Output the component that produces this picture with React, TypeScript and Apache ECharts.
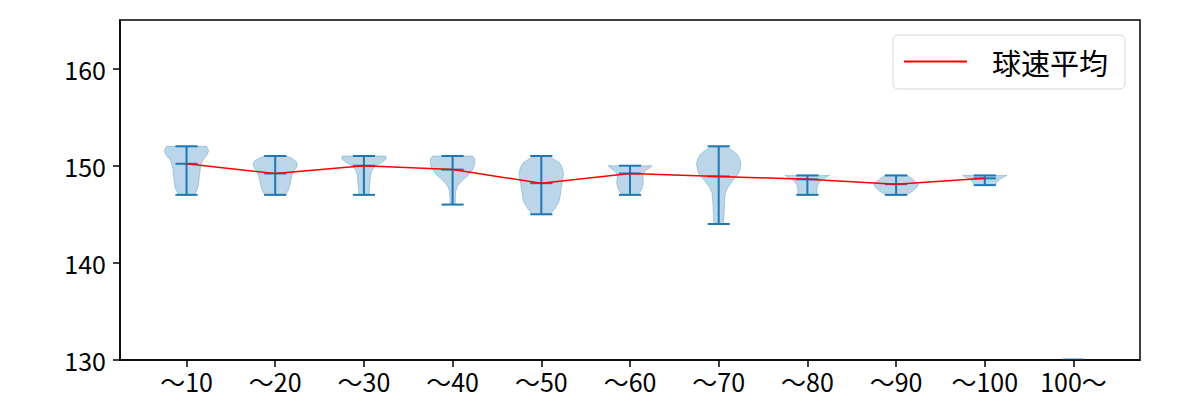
import React, { useEffect, useRef } from "react";
import * as echarts from "echarts";

const categories = ["～10", "～20", "～30", "～40", "～50", "～60", "～70", "～80", "～90", "～100", "100～"];
const positions = [1, 2, 3, 4, 5, 6, 7, 8, 9, 10, 11];
const minVals: (number | null)[] = [147, 147, 147, 146, 145, 147, 144, 147, 147, 148, null];
const maxVals: (number | null)[] = [152, 151, 151, 151, 151, 150, 152, 149, 149, 149, null];
const meanVals: (number | null)[] = [150.2, 149.2, 150.0, 149.6, 148.2, 149.2, 148.9, 148.6, 148.1, 148.7, null];
const yTicks = [130, 140, 150, 160];

// violin outlines: [speed, relative density (1 = widest)]
const violin1 = [[152.0, 0.9], [151.6, 1.0], [151.2, 0.95], [150.9, 0.85], [150.5, 0.72], [150.2, 0.67], [149.7, 0.62], [149.2, 0.6], [148.5, 0.56], [147.9, 0.53], [147.5, 0.47], [147.2, 0.4], [147.0, 0.33]];
const violin2 = [[151.0, 0.5], [150.8, 0.72], [150.5, 0.92], [150.2, 1.0], [149.8, 0.95], [149.4, 0.83], [149.0, 0.75], [148.5, 0.7], [148.0, 0.66], [147.5, 0.6], [147.2, 0.52], [147.0, 0.45]];
const violin3 = [[151.0, 0.98], [150.7, 1.0], [150.4, 0.85], [150.1, 0.6], [149.8, 0.45], [149.4, 0.34], [149.0, 0.3], [148.0, 0.26], [147.0, 0.23]];
const violin4 = [[151.0, 0.9], [150.7, 1.0], [150.3, 1.0], [149.9, 0.97], [149.5, 0.88], [149.0, 0.7], [148.6, 0.5], [148.2, 0.32], [147.8, 0.2], [147.4, 0.15], [147.0, 0.13], [146.5, 0.12], [146.0, 0.12]];
const violin5 = [[151.0, 0.3], [150.7, 0.55], [150.3, 0.82], [149.8, 0.95], [149.2, 1.0], [148.6, 0.97], [148.0, 0.92], [147.4, 0.88], [146.8, 0.85], [146.2, 0.78], [145.6, 0.62], [145.0, 0.4]];
const violin6 = [[150.0, 1.0], [149.8, 0.9], [149.5, 0.72], [149.2, 0.6], [148.7, 0.58], [148.2, 0.6], [147.7, 0.55], [147.3, 0.45], [147.0, 0.38]];
const violin7 = [[152.0, 0.3], [151.6, 0.6], [151.2, 0.82], [150.7, 0.95], [150.2, 1.0], [149.7, 0.97], [149.2, 0.9], [148.7, 0.72], [148.2, 0.55], [147.7, 0.4], [147.2, 0.3], [146.5, 0.27], [145.5, 0.25], [144.5, 0.23], [144.0, 0.22]];
const violin8 = [[149.0, 1.0], [148.8, 0.85], [148.6, 0.7], [148.3, 0.55], [148.0, 0.46], [147.5, 0.43], [147.0, 0.43]];
const violin9 = [[149.0, 0.53], [148.5, 0.8], [148.1, 1.0], [147.8, 0.95], [147.4, 0.75], [147.0, 0.5]];
const violin10 = [[149.0, 1.0], [148.7, 0.75], [148.4, 0.58], [148.0, 0.45]];
const violin11 = [[130.15, 0.47], [129.5, 0.5]];
const violinProfiles = [violin1, violin2, violin3, violin4, violin5, violin6, violin7, violin8, violin9, violin10, violin11];

const FONT = '"Noto Sans CJK JP", "Noto Sans", sans-serif';
const BLUE = "#1f77b4";
const HALF = 0.25;
const CAP = 0.125;

export default function App() {
  const ref = useRef<HTMLDivElement>(null);
  useEffect(() => {
    if (!ref.current) return;
    const chart = echarts.init(ref.current, null, { renderer: "svg" });
    const option: any = {
      animation: false,
      backgroundColor: "#fff",
      textStyle: { fontFamily: FONT },
      grid: { left: 120, right: 60, top: 20, bottom: 40, show: true, borderColor: "#000", borderWidth: 1.5, backgroundColor: "transparent" },
      xAxis: {
        type: "value",
        min: 0.25,
        max: 11.75,
        splitLine: { show: false },
        axisLine: { show: true, lineStyle: { color: "#000", width: 1.5 } },
        axisTick: { show: true, customValues: positions, length: 7, lineStyle: { color: "#000", width: 1.5 } },
        axisLabel: {
          customValues: positions,
          formatter: (v: number) => categories[Math.round(v) - 1] ?? "",
          fontSize: 25,
          color: "#000",
          margin: 8,
          fontFamily: FONT,
        },
      },
      yAxis: {
        type: "value",
        min: 130,
        max: 165,
        splitLine: { show: false },
        axisLine: { show: true, lineStyle: { color: "#000", width: 1.5 } },
        axisTick: { show: true, customValues: yTicks, length: 7, lineStyle: { color: "#000", width: 1.5 } },
        axisLabel: { customValues: yTicks, fontSize: 25, color: "#000", margin: 14, fontFamily: FONT },
      },
      legend: {
        left: 893,
        top: 35,
        data: [{ name: "球速平均", icon: "rect", itemStyle: { color: "red" } }],
        backgroundColor: "#fff",
        borderColor: "#d4d4d4",
        borderWidth: 1,
        borderRadius: 5,
        padding: [12, 17, 13, 11],
        itemWidth: 63,
        itemHeight: 2,
        textStyle: { fontSize: 29, color: "#000", fontFamily: FONT, padding: [0, 0, 0, 20] },
      },
      series: [
        {
          type: "custom",
          name: "violins",
          clip: true,
          z: 2,
          data: positions.map((p, k) => [p, minVals[k] ?? 130]),
          renderItem: (params: any, api: any) => {
            const pos = api.value(0) as number;
            const k = pos - 1;
            const prof = violinProfiles[k];
            const right = prof.map(([v, w]) => api.coord([pos + w * HALF, v]));
            const left = prof.slice().reverse().map(([v, w]) => api.coord([pos - w * HALF, v]));
            const children: any[] = [
              {
                type: "polygon",
                shape: { points: [...right, ...left] },
                style: { fill: BLUE, stroke: BLUE, lineWidth: 1, opacity: 0.3 },
              },
            ];
            const mn = minVals[k];
            const mx = maxVals[k];
            const me = meanVals[k];
            const seg = (a: number[], b: number[]) => ({
              type: "line",
              shape: { x1: a[0], y1: a[1], x2: b[0], y2: b[1] },
              style: { stroke: BLUE, lineWidth: 2 },
            });
            if (mn != null && mx != null) {
              children.push(seg(api.coord([pos, mn]), api.coord([pos, mx])));
              children.push(seg(api.coord([pos - CAP, mn]), api.coord([pos + CAP, mn])));
              children.push(seg(api.coord([pos - CAP, mx]), api.coord([pos + CAP, mx])));
            }
            if (me != null) {
              children.push(seg(api.coord([pos - CAP, me]), api.coord([pos + CAP, me])));
            }
            return { type: "group", children };
          },
        },
        {
          type: "line",
          name: "球速平均",
          z: 3,
          symbol: "none",
          showSymbol: false,
          lineStyle: { color: "red", width: 1.5 },
          itemStyle: { color: "red" },
          data: positions.slice(0, 10).map((p, k) => [p, meanVals[k]]),
        },
      ],
    };
    chart.setOption(option);
    return () => chart.dispose();
  }, []);
  return <div ref={ref} style={{ position: "absolute", left: 0, top: 0, width: 1200, height: 400 }} />;
}
